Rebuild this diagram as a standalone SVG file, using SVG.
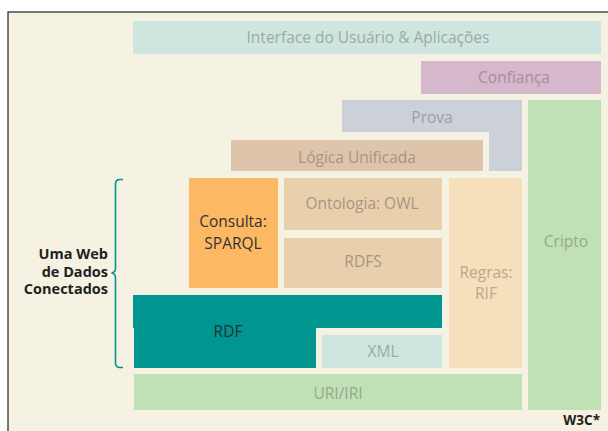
<svg xmlns="http://www.w3.org/2000/svg" width="608" height="431" viewBox="0 0 608 431">
<style>
.lbl{font-family:"Open Sans","Noto Sans","Liberation Sans",sans-serif;font-size:15.5px;text-anchor:middle}
.side{font-family:"Open Sans","Noto Sans","Liberation Sans",sans-serif;font-size:14.5px;font-weight:bold;fill:#231f20;text-anchor:end}
</style>
<rect x="0" y="0" width="608" height="431" fill="#ffffff"/>
<rect x="8" y="12" width="610" height="430" fill="#f5f1e3" stroke="#333333" stroke-width="1.3"/>
<g id="interface"><rect x="133" y="21" width="468" height="33" fill="#cfe6e0"/><text class="lbl" x="368" y="43" fill="#9caaa6">Interface do Usuário &amp; Aplicações</text></g>
<g id="confianca"><rect x="421" y="61" width="180" height="33" fill="#d5b8cc"/><text class="lbl" x="514" y="83" fill="#a58d9d">Confiança</text></g>
<g id="prova"><path d="M342 100H522V171H489V132H342Z" fill="#ccd0d9"/><text class="lbl" x="432" y="122.5" fill="#9a9ea9">Prova</text></g>
<g id="cripto"><rect x="528" y="100" width="73" height="310" fill="#c0e0b5"/><text class="lbl" x="566" y="247" fill="#93aa8d">Cripto</text></g>
<g id="logica"><rect x="231" y="140" width="252" height="31" fill="#ddc4aa"/><text class="lbl" x="357" y="162.5" fill="#a89481">Lógica Unificada</text></g>
<g id="consulta"><rect x="189" y="178" width="89" height="110" fill="#fdb863"/><text class="lbl" x="233" y="227" fill="#333333">Consulta:</text><text class="lbl" x="233" y="249" fill="#333333">SPARQL</text></g>
<g id="ontologia"><rect x="284" y="178" width="158" height="52" fill="#e8d0ac"/><text class="lbl" x="362" y="208.5" fill="#a99580">Ontologia: OWL</text></g>
<g id="rdfs"><rect x="284" y="238" width="158" height="50" fill="#e8d0ac"/><text class="lbl" x="363" y="267" fill="#a99580">RDFS</text></g>
<g id="regras"><rect x="449" y="178" width="73" height="190" fill="#f5e0bb"/><text class="lbl" x="486" y="278" fill="#b8a88d">Regras:</text><text class="lbl" x="486" y="298.5" fill="#b8a88d">RIF</text></g>
<g id="rdf"><path d="M133 295H442V328H316V368H134V328H133Z" fill="#00958f"/><text class="lbl" x="228" y="337" fill="#1d3333">RDF</text></g>
<g id="xml"><rect x="322" y="335" width="120" height="33" fill="#cfe6e0"/><text class="lbl" x="383" y="357" fill="#9caaa6">XML</text></g>
<g id="uri"><rect x="134" y="374" width="388" height="36" fill="#c0e0b5"/><text class="lbl" x="338" y="398.5" fill="#93aa8d">URI/IRI</text></g>
<g id="connectors"><path d="M123 179.5H120Q115.5 179.5 115.5 184V268Q115.5 272.5 111.5 273Q115.5 273.5 115.5 278V363Q115.5 367.5 120 367.5H123" fill="none" stroke="#00958f" stroke-width="1.6"/></g>
<g id="side-label"><text class="side" x="108" y="259">Uma Web</text><text class="side" x="108" y="276.5">de Dados</text><text class="side" x="108" y="294">Conectados</text></g>
<text x="600" y="424.5" font-family="Open Sans,Noto Sans,Liberation Sans,sans-serif" font-size="13.5" font-weight="bold" fill="#231f20" text-anchor="end">W3C*</text>
</svg>
